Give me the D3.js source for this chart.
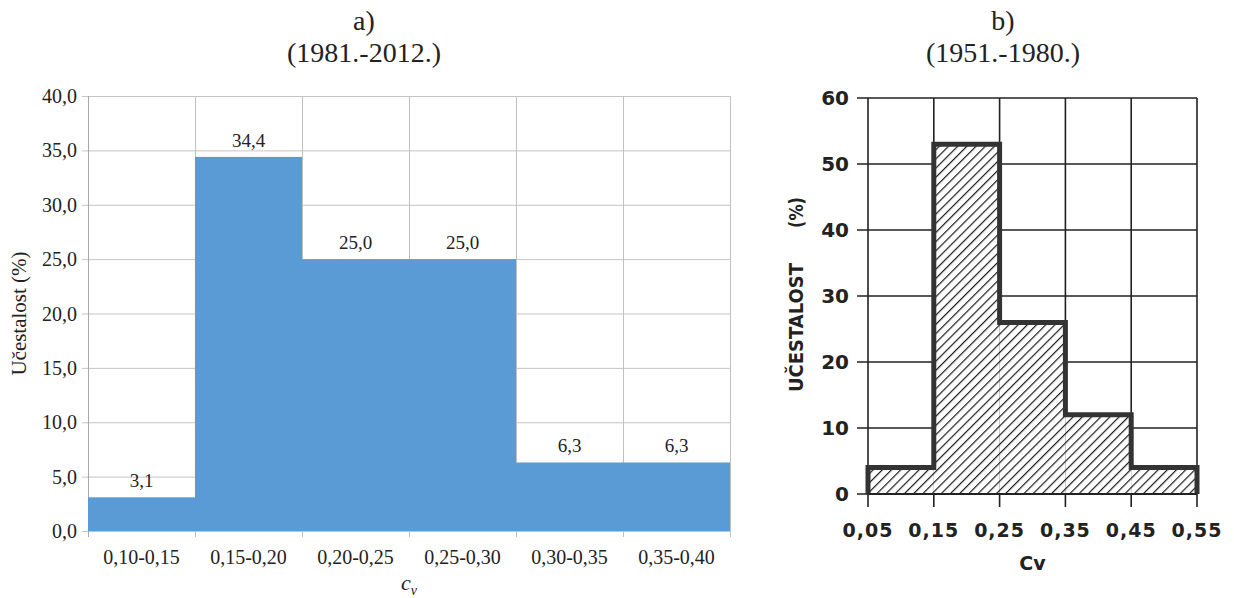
<!DOCTYPE html>
<html>
<head>
<meta charset="utf-8">
<script src="https://cdn.jsdelivr.net/npm/d3@7"></script>
<style>
  html, body { margin: 0; padding: 0; background: #fff; }
  svg { display: block; }
  .serif { font-family: "Liberation Serif", "Times New Roman", Times, "DejaVu Serif", serif; }
  .sans { font-family: "DejaVu Sans", "Liberation Sans", sans-serif; font-weight: bold; }
</style>
</head>
<body>
<svg id="chart" width="1234" height="598"></svg>
<script>
// ---------- Data (a) 1981.-2012. ----------
const categoriesA = ["0,10-0,15", "0,15-0,20", "0,20-0,25", "0,25-0,30", "0,30-0,35", "0,35-0,40"];
const valuesA = [3.1, 34.4, 25.0, 25.0, 6.3, 6.3];
const yTicksA = [0, 5, 10, 15, 20, 25, 30, 35, 40];

// ---------- Data (b) 1951.-1980. ----------
const binEdgesB = [0.05, 0.15, 0.25, 0.35, 0.45, 0.55];
const valuesB = [4, 53, 26, 12, 4];
const yTicksB = [0, 10, 20, 30, 40, 50, 60];

const svg = d3.select("#chart");
const comma1 = v => d3.format(".1f")(v).replace(".", ",");
const comma2 = v => d3.format(".2f")(v).replace(".", ",");

// ================= Chart a =================
const A = { left: 88, right: 730, top: 96, bottom: 531 };
const xA = d3.scaleBand().domain(categoriesA).range([A.left, A.right]).padding(0);
const yA = d3.scaleLinear().domain([0, 40]).range([A.bottom, A.top]);
const gA = svg.append("g");

gA.selectAll("line.hg").data(yTicksA).join("line")
  .attr("x1", A.left - 6).attr("x2", A.right)
  .attr("y1", d => yA(d) + 0.5).attr("y2", d => yA(d) + 0.5)
  .attr("stroke", "#c4c4c4").attr("stroke-width", 1);
const boundsA = categoriesA.map(c => xA(c)).concat([A.right]);
gA.selectAll("line.vg").data(boundsA).join("line")
  .attr("x1", d => d + 0.5).attr("x2", d => d + 0.5)
  .attr("y1", A.top).attr("y2", A.bottom + 6)
  .attr("stroke", (d, i) => i === 0 ? "#a8a8a8" : "#c0c0c0").attr("stroke-width", 1);

gA.selectAll("rect.bar").data(valuesA).join("rect")
  .attr("x", (d, i) => xA(categoriesA[i]))
  .attr("width", xA.bandwidth())
  .attr("y", d => yA(d))
  .attr("height", d => A.bottom - yA(d))
  .attr("fill", "#5b9bd5");

gA.selectAll("text.lbl").data(valuesA).join("text")
  .attr("class", "serif")
  .attr("x", (d, i) => xA(categoriesA[i]) + xA.bandwidth() / 2)
  .attr("y", d => yA(d) - 10)
  .attr("text-anchor", "middle")
  .attr("font-size", 19).attr("fill", "#222")
  .text(d => comma1(d));

gA.selectAll("text.yt").data(yTicksA).join("text")
  .attr("class", "serif")
  .attr("x", A.left - 11).attr("y", d => yA(d) + 7)
  .attr("text-anchor", "end")
  .attr("font-size", 20).attr("fill", "#222")
  .text(d => comma1(d));

gA.selectAll("text.xt").data(categoriesA).join("text")
  .attr("class", "serif")
  .attr("x", d => xA(d) + xA.bandwidth() / 2).attr("y", 564)
  .attr("text-anchor", "middle")
  .attr("font-size", 20).attr("fill", "#222")
  .text(d => d);

gA.append("text")
  .attr("class", "serif")
  .attr("transform", `translate(26, ${(A.top + A.bottom) / 2}) rotate(-90)`)
  .attr("text-anchor", "middle")
  .attr("font-size", 21).attr("fill", "#222")
  .text("Učestalost (%)");

const cv = gA.append("text")
  .attr("class", "serif")
  .attr("x", (A.left + A.right) / 2).attr("y", 590)
  .attr("text-anchor", "middle")
  .attr("font-size", 22).attr("font-style", "italic").attr("fill", "#222");
cv.append("tspan").text("c");
cv.append("tspan").attr("font-size", 14).attr("dy", 5).text("v");

gA.append("text").attr("class", "serif").attr("x", 364).attr("y", 30).attr("text-anchor", "middle")
  .attr("font-size", 28).attr("fill", "#222").text("a)");
gA.append("text").attr("class", "serif").attr("x", 364).attr("y", 62).attr("text-anchor", "middle")
  .attr("font-size", 28).attr("fill", "#222").text("(1981.-2012.)");

// ================= Chart b =================
const B = { left: 868, right: 1197, top: 98, bottom: 494 };
const xB = d3.scaleLinear().domain([binEdgesB[0], binEdgesB[binEdgesB.length - 1]]).range([B.left, B.right]);
const yB = d3.scaleLinear().domain([0, 60]).range([B.bottom, B.top]);
const gB = svg.append("g");

const defs = svg.append("defs");
const pat = defs.append("pattern").attr("id", "hatch")
  .attr("patternUnits", "userSpaceOnUse").attr("width", 6.5).attr("height", 6.5)
  .attr("patternTransform", "rotate(45)");
pat.append("rect").attr("width", 6.5).attr("height", 6.5).attr("fill", "#fff");
pat.append("line").attr("x1", 0).attr("x2", 0).attr("y1", 0).attr("y2", 6.5)
  .attr("stroke", "#1a1a1a").attr("stroke-width", 2.4);

const gridB = gB.append("g");
gridB.selectAll("line.hg").data(yTicksB).join("line")
  .attr("x1", B.left - 11).attr("x2", B.right)
  .attr("y1", d => yB(d)).attr("y2", d => yB(d))
  .attr("stroke", "#222").attr("stroke-width", 1.6);
gridB.selectAll("line.vg").data(binEdgesB).join("line")
  .attr("x1", d => xB(d)).attr("x2", d => xB(d))
  .attr("y1", B.top).attr("y2", B.bottom + 13)
  .attr("stroke", "#222").attr("stroke-width", 1.6);

gB.selectAll("rect.hb").data(valuesB).join("rect")
  .attr("x", (d, i) => xB(binEdgesB[i]))
  .attr("width", (d, i) => xB(binEdgesB[i + 1]) - xB(binEdgesB[i]))
  .attr("y", d => yB(d))
  .attr("height", d => B.bottom - yB(d) - 1)
  .attr("fill", "url(#hatch)");

const stepPts = [[binEdgesB[0], 0]];
valuesB.forEach((v, i) => { stepPts.push([binEdgesB[i], v]); stepPts.push([binEdgesB[i + 1], v]); });
stepPts.push([binEdgesB[binEdgesB.length - 1], 0]);
gB.append("path")
  .attr("d", d3.line().x(d => xB(d[0])).y(d => yB(d[1]))(stepPts))
  .attr("fill", "none").attr("stroke", "#333").attr("stroke-width", 5)
  .attr("stroke-linejoin", "miter");
gB.append("line")
  .attr("x1", B.left).attr("x2", B.right).attr("y1", B.bottom).attr("y2", B.bottom)
  .attr("stroke", "#222").attr("stroke-width", 2);

gB.selectAll("text.yt").data(yTicksB).join("text")
  .attr("class", "sans")
  .attr("x", B.left - 19).attr("y", d => yB(d) + 7)
  .attr("text-anchor", "end")
  .attr("font-size", 20).attr("fill", "#222")
  .text(d => d);

gB.selectAll("text.xt").data(binEdgesB).join("text")
  .attr("class", "sans")
  .attr("x", d => xB(d)).attr("y", 537)
  .attr("text-anchor", "middle")
  .attr("font-size", 19).attr("fill", "#222")
  .attr("letter-spacing", 1)
  .text(d => comma2(d));

gB.append("text").attr("class", "sans").attr("x", (B.left + B.right) / 2).attr("y", 570).attr("text-anchor", "middle")
  .attr("font-size", 19).attr("fill", "#222")
  .text("Cv");

const yt = gB.append("g").attr("transform", "translate(803, 0) rotate(-90)");
yt.append("text").attr("class", "sans").attr("x", -392).attr("y", 0)
  .attr("font-size", 20).attr("fill", "#222")
  .attr("textLength", 129).attr("lengthAdjust", "spacingAndGlyphs")
  .text("UČESTALOST");
yt.append("text").attr("class", "sans").attr("x", -228).attr("y", 0)
  .attr("font-size", 20).attr("fill", "#222")
  .attr("textLength", 31).attr("lengthAdjust", "spacingAndGlyphs")
  .text("(%)");

gB.append("text").attr("class", "serif").attr("x", 1003).attr("y", 30).attr("text-anchor", "middle")
  .attr("font-size", 28).attr("fill", "#222").text("b)");
gB.append("text").attr("class", "serif").attr("x", 1003).attr("y", 62).attr("text-anchor", "middle")
  .attr("font-size", 28).attr("fill", "#222").text("(1951.-1980.)");
</script>
</body>
</html>
